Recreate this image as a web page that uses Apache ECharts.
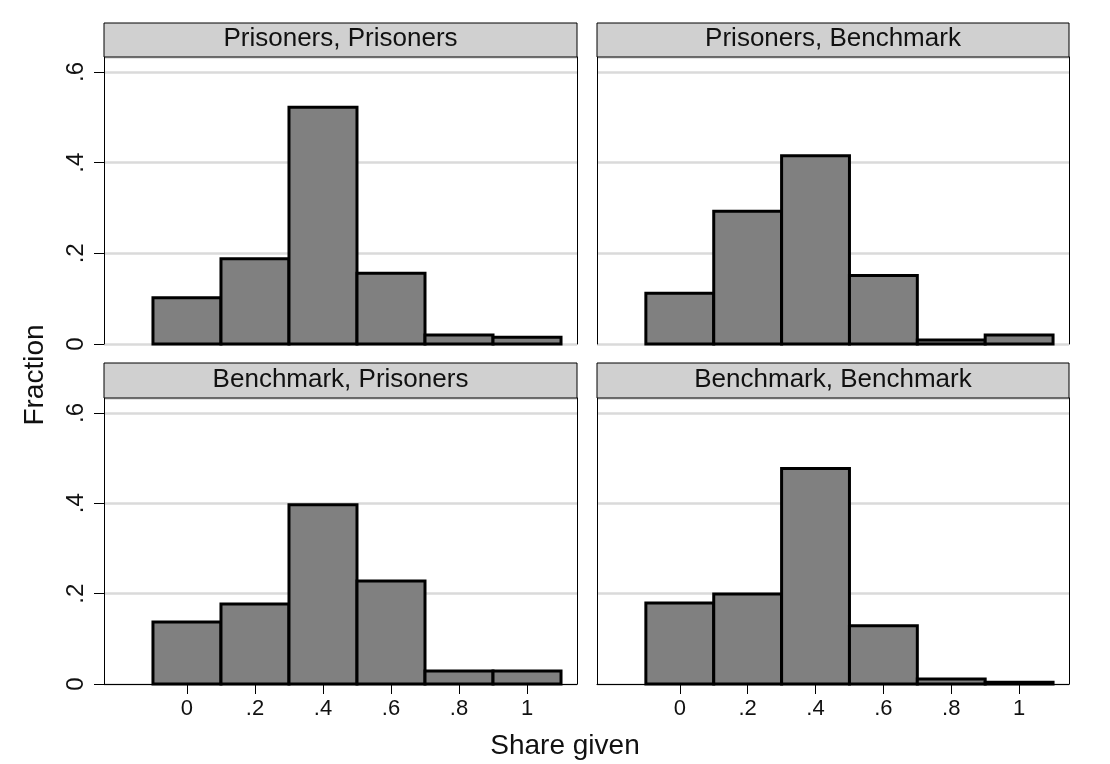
<!DOCTYPE html>
<html>
<head>
<meta charset="utf-8">
<script src="https://cdn.jsdelivr.net/npm/echarts@6/dist/echarts.min.js"></script>
<style>
html,body{margin:0;padding:0;background:#fff;}
#chart{width:1110px;height:764px;}
</style>
</head>
<body>
<div id="chart"></div>
<script>
// Histogram bins (share given), width 0.2
const binStarts = [-0.1, 0.1, 0.3, 0.5, 0.7, 0.9];
const binEnds   = [0.1, 0.3, 0.5, 0.7, 0.9, 1.1];
const panelTitles = ['Prisoners, Prisoners', 'Prisoners, Benchmark', 'Benchmark, Prisoners', 'Benchmark, Benchmark'];
const prisonersPrisoners = [0.102, 0.188, 0.522, 0.156, 0.020, 0.015];
const prisonersBenchmark = [0.112, 0.293, 0.415, 0.151, 0.009, 0.020];
const benchmarkPrisoners = [0.137, 0.177, 0.397, 0.228, 0.029, 0.029];
const benchmarkBenchmark = [0.179, 0.199, 0.477, 0.129, 0.011, 0.004];
const xTickValues = [0, 0.2, 0.4, 0.6, 0.8, 1];
const yTickValues = [0, 0.2, 0.4, 0.6];
const xAxisTitle = 'Share given';
const yAxisTitle = 'Fraction';

const panelData = [prisonersPrisoners, prisonersBenchmark, benchmarkPrisoners, benchmarkBenchmark];
const FONT = '"Liberation Sans", Arial, Helvetica, sans-serif';

function fmt(v) {
  if (Math.abs(v) < 1e-9) return '0';
  if (Math.abs(v - 1) < 1e-9) return '1';
  return String(Math.round(v * 10) / 10).replace(/^0/, '');
}

const grids = [
  {left: 104, top: 57, width: 473, height: 287},
  {left: 597, top: 57, width: 472, height: 287},
  {left: 104, top: 398, width: 473, height: 286},
  {left: 597, top: 398, width: 472, height: 286}
];
const headerTops = [23, 23, 363, 363];

const xAxes = [], yAxes = [], series = [], graphics = [];
grids.forEach((g, i) => {
  const bottomRow = i >= 2;
  const leftCol = i % 2 === 0;
  xAxes.push({
    type: 'value', gridIndex: i, min: -0.244, max: 1.147,
    splitLine: {show: false},
    axisLine: {show: bottomRow, onZero: false, lineStyle: {color: '#000', width: 1}},
    axisTick: {show: bottomRow, length: 10, customValues: xTickValues, lineStyle: {color: '#000', width: 1}},
    axisLabel: {show: bottomRow, customValues: xTickValues, formatter: fmt, color: '#111',
      fontFamily: FONT, fontSize: 22, margin: 14}
  });
  yAxes.push({
    type: 'value', gridIndex: i, min: 0, max: 0.633, interval: 0.2,
    splitLine: {show: true, lineStyle: {color: '#dadada', width: 2.5}},
    axisLine: {show: true, onZero: false, lineStyle: {color: '#000', width: 1}},
    axisTick: {show: leftCol, length: 10, lineStyle: {color: '#000', width: 1}},
    axisLabel: {show: leftCol, rotate: 90, color: '#111', fontFamily: FONT, fontSize: 24, margin: 16,
      showMaxLabel: false,
      formatter: v => yTickValues.some(t => Math.abs(t - v) < 1e-6) ? fmt(v) : ''}
  });
  // right border
  yAxes.push({
    type: 'value', gridIndex: i, min: 0, max: 0.633, position: 'right',
    splitLine: {show: false}, axisTick: {show: false}, axisLabel: {show: false},
    axisLine: {show: true, onZero: false, lineStyle: {color: '#000', width: 1}}
  });
  const data = panelData[i].map((v, k) => [binStarts[k], binEnds[k], v]);
  series.push({
    type: 'custom', xAxisIndex: i, yAxisIndex: i * 2,
    data: data,
    encode: {x: [0, 1], y: 2},
    z: 5,
    renderItem: function (params, api) {
      const p0 = api.coord([api.value(0), api.value(2)]);
      const p1 = api.coord([api.value(1), 0]);
      return {
        type: 'rect',
        shape: {x: p0[0], y: p0[1], width: p1[0] - p0[0], height: p1[1] - p0[1]},
        style: {fill: '#808080', stroke: '#000', lineWidth: 3}
      };
    }
  });
  graphics.push({
    type: 'rect', z: 100,
    shape: {x: g.left, y: headerTops[i], width: g.width, height: g.top - headerTops[i]},
    style: {fill: '#d0d0d0', stroke: '#000', lineWidth: 1}
  });
  graphics.push({
    type: 'text', z: 101,
    x: g.left + g.width / 2, y: (headerTops[i] + g.top) / 2 - 1,
    style: {text: panelTitles[i], font: '26px ' + FONT, fill: '#111', align: 'center', verticalAlign: 'middle'}
  });
});
graphics.push({
  type: 'text', x: 565, y: 746,
  style: {text: xAxisTitle, font: '28px ' + FONT, fill: '#111', align: 'center', verticalAlign: 'middle'}
});
graphics.push({
  type: 'text', x: 35, y: 375, rotation: Math.PI / 2,
  style: {text: yAxisTitle, font: '28px ' + FONT, fill: '#111', align: 'center', verticalAlign: 'middle'}
});

const chart = echarts.init(document.getElementById('chart'), null, {renderer: 'canvas'});
chart.setOption({
  backgroundColor: '#fff',
  animation: false,
  grid: grids,
  xAxis: xAxes,
  yAxis: yAxes,
  series: series,
  graphic: graphics
});
</script>
</body>
</html>
